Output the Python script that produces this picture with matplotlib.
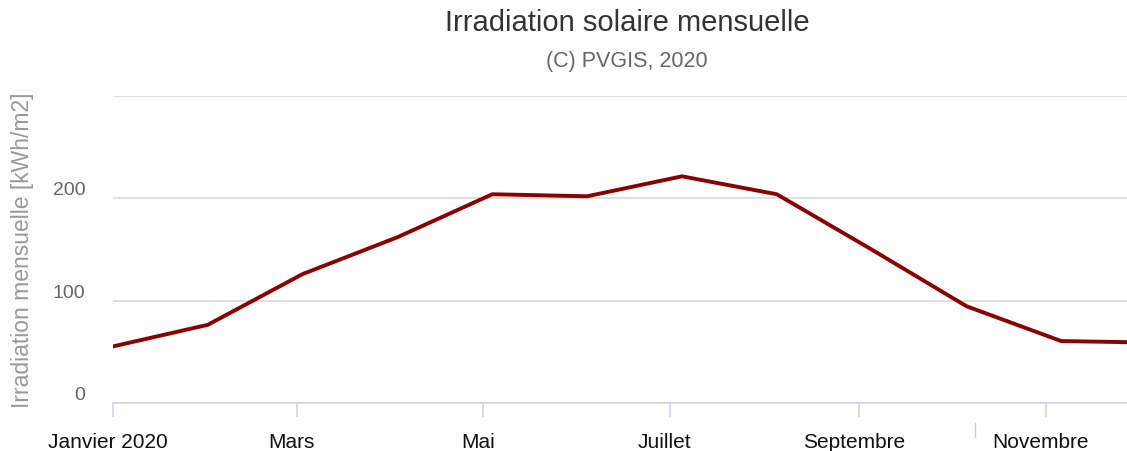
import datetime as dt
import matplotlib
matplotlib.use("Agg")
import matplotlib.pyplot as plt
import matplotlib.transforms as mtransforms

plt.rcParams['font.family'] = ['Liberation Sans', 'DejaVu Sans']

# monthly irradiation, points spaced 31 days apart (as in the source chart)
start = dt.datetime(2020, 1, 1)
point_step_days = 31
irradiation = [55.3, 76.4, 126, 162, 204, 202, 221.5, 204, 150, 94.6, 60.5, 59]
dates = [start + dt.timedelta(days=point_step_days * i) for i in range(len(irradiation))]

tick_dates = [dt.datetime(2020, m, 1) for m in (1, 3, 5, 7, 9, 11)]
tick_labels = ["Janvier 2020", "Mars", "Mai", "Juillet", "Septembre", "Novembre"]
y_ticks = [0, 100, 200, 300]
y_tick_labels = ["0", "100", "200", ""]

fig = plt.figure(figsize=(11.27, 4.52), dpi=100)
ax = fig.add_axes([113 / 1127, 1 - 404 / 452, 1 - 113 / 1127, (404 - 97) / 452])

ax.plot(dates, irradiation, color="#8b0000", lw=2.8, solid_joinstyle="round", zorder=3)

ax.set_ylim(0, 300)
ax.set_xlim(start, start + dt.timedelta(days=331.5))

ax.set_yticks(y_ticks)
ax.set_yticklabels(y_tick_labels, color="#666666", fontsize=14)
ax.tick_params(axis="y", length=0, pad=20)
for lbl in ax.get_yticklabels():
    lbl.set_verticalalignment("bottom")
ax.grid(axis="y", color="#d9d9d9", lw=1.2)
ax.set_axisbelow(True)

ax.set_xticks(tick_dates)
ax.set_xticklabels(tick_labels, fontsize=15, color="#111111")
ax.tick_params(axis="x", length=10, width=1.2, color="#ccd6eb", pad=11)
shift = mtransforms.ScaledTranslation(-5 / 100, 0, fig.dpi_scale_trans)
for lbl in ax.get_xticklabels():
    lbl.set_transform(lbl.get_transform() + shift)

for s in ("top", "right", "left"):
    ax.spines[s].set_visible(False)
ax.spines["bottom"].set_color("#ccd6eb")
ax.spines["bottom"].set_linewidth(1.2)

ax.set_ylabel("Irradiation mensuelle [kWh/m2]", color="#999999", fontsize=16.5)
ax.yaxis.label.set_va("center")
ax.yaxis.set_label_coords(-90 / 1014, 0.5)

fig.text(627 / 1127, 1 - 23 / 452, "Irradiation solaire mensuelle", ha="center", va="center",
         fontsize=21, color="#333333")
fig.text(627 / 1127, 1 - 61 / 452, "(C) PVGIS, 2020", ha="center", va="center",
         fontsize=15.5, color="#666666")

# small stray tick in the label area
fig.add_artist(plt.Line2D([975 / 1127, 975 / 1127], [1 - 424 / 452, 1 - 438 / 452],
                          color="#cccccc", lw=1))

fig.savefig("out.png", dpi=100)
